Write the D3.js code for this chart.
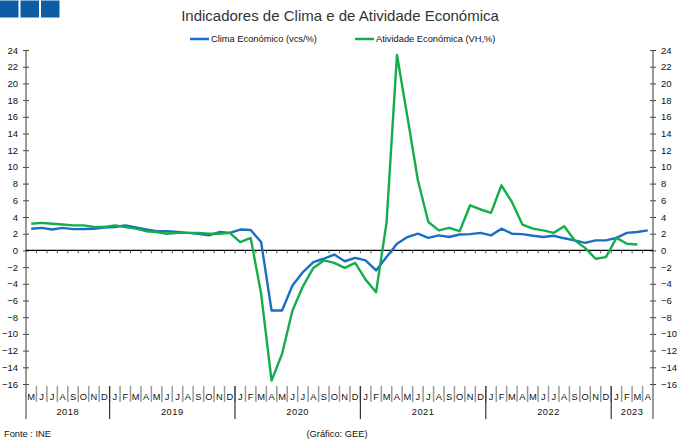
<!DOCTYPE html>
<html>
<head>
<meta charset="utf-8">
<script src="https://cdn.jsdelivr.net/npm/d3@7"></script>
<style>
  html, body { margin: 0; padding: 0; background: #fff; }
  svg { display: block; font-family: "Liberation Sans", Arial, sans-serif; }
</style>
</head>
<body>
<svg id="chart" width="681" height="443"></svg>
<script>
// ---- Data ----
const monthLetters = ["M","J","J","A","S","O","N","D",
  "J","F","M","A","M","J","J","A","S","O","N","D",
  "J","F","M","A","M","J","J","A","S","O","N","D",
  "J","F","M","A","M","J","J","A","S","O","N","D",
  "J","F","M","A","M","J","J","A","S","O","N","D",
  "J","F","M","A"];
const years = ["2018","2019","2020","2021","2022","2023"];
const monthsPerYear = [8, 12, 12, 12, 12, 4];
const clima = [2.6, 2.7, 2.5, 2.7, 2.55, 2.55, 2.6, 2.75, 2.8, 3.0, 2.75, 2.5, 2.3, 2.3, 2.2, 2.1, 2.0, 1.8, 2.2, 2.1, 2.5, 2.45,
  1.0, -7.2, -7.2, -4.2, -2.6, -1.4, -1.0, -0.5, -1.3, -0.9, -1.2, -2.4, -0.8,
  0.8, 1.6, 2.0, 1.5, 1.8, 1.6, 1.9, 1.95, 2.1, 1.8, 2.6, 2.0, 1.95, 1.75, 1.6, 1.75, 1.45, 1.2, 0.9, 1.2, 1.2, 1.5, 2.1, 2.2, 2.4];
const atividade = [3.2, 3.3, 3.2, 3.1, 3.0, 3.0, 2.8, 2.8, 3.0, 2.8, 2.6, 2.3, 2.2, 2.0, 2.1, 2.1, 2.1, 2.0, 2.0, 2.1, 1.0, 1.5,
  -5.2, -15.6, -12.4, -7.2, -4.3, -2.1, -1.2, -1.5, -2.1, -1.5, -3.5, -5.0, 3.3,
  23.4, 16.0, 8.4, 3.4, 2.4, 2.7, 2.3, 5.4, 4.9, 4.5, 7.8, 5.8, 3.1, 2.6, 2.4, 2.1, 2.9, 1.2, 0.3, -1.0, -0.8, 1.5, 0.8, 0.7];
const yTicks = d3.range(-16, 25, 2);
const seriesNames = ["Clima Económico (vcs/%)", "Atividade Económica (VH,%)"];
const colors = ["#1a6ec4", "#15ad4b"];

// ---- Layout ----
const svg = d3.select("#chart");
const L = 26, R = 653, T = 50, B = 384;
const idx = d3.range(monthLetters.length);
const x = d3.scaleBand().domain(idx).range([L, R]).paddingInner(0).paddingOuter(0);
const xc = i => x(i) + x.bandwidth() / 2;
const y = d3.scaleLinear().domain([-16, 24]).range([B, T]);

// header squares
[0, 1, 2].forEach(k => {
  svg.append("rect").attr("x", k * 20.5).attr("y", 0.5).attr("width", 18.5).attr("height", 17)
    .attr("fill", "#0e5ca5");
});

// title
svg.append("text").attr("x", 340).attr("y", 21).attr("text-anchor", "middle")
  .attr("font-size", 15).attr("fill", "#333").text("Indicadores de Clima e de Atividade Económica");

// legend
const legendX = [190, 355];
seriesNames.forEach((n, k) => {
  svg.append("line").attr("x1", legendX[k]).attr("x2", legendX[k] + 19)
    .attr("y1", 39).attr("y2", 39).attr("stroke", colors[k]).attr("stroke-width", 2.5);
  svg.append("text").attr("x", legendX[k] + 21).attr("y", 42).attr("font-size", 9.3)
    .attr("fill", "#111").text(n);
});

// y axes
const axisColor = "#444";
const leftAxis = d3.axisLeft(y).tickValues(yTicks).tickSize(3).tickSizeOuter(0).tickPadding(5).tickFormat(d3.format("d"));
const rightAxis = d3.axisRight(y).tickValues(yTicks).tickSize(3).tickSizeOuter(0).tickPadding(5).tickFormat(d3.format("d"));
function styleAxis(g, side) {
  g.select(".domain").remove();
  g.selectAll(".tick line").attr("stroke", axisColor).attr("x1", side * -3).attr("x2", side * 3);
  g.selectAll(".tick text").attr("font-size", 9.5).attr("fill", "#111").attr("font-family", "Liberation Sans, Arial, sans-serif");
}
const gl = svg.append("g").attr("transform", `translate(${L},0)`).call(leftAxis);
styleAxis(gl, 1);
gl.selectAll(".tick text").attr("x", -8);
const gr = svg.append("g").attr("transform", `translate(${R},0)`).call(rightAxis);
styleAxis(gr, -1);
gr.selectAll(".tick text").attr("x", 8);

// vertical axis lines (extend to bottom of year band)
[L, R].forEach(xx => {
  svg.append("line").attr("x1", xx).attr("x2", xx).attr("y1", T).attr("y2", 419)
    .attr("stroke", "#555").attr("stroke-width", 1.2);
});

// zero line with ticks
svg.append("line").attr("x1", L).attr("x2", R).attr("y1", y(0)).attr("y2", y(0))
  .attr("stroke", "#000").attr("stroke-width", 1.2);
idx.slice(1).forEach(i => {
  svg.append("line").attr("x1", x(i)).attr("x2", x(i)).attr("y1", y(0)).attr("y2", y(0) + 3)
    .attr("stroke", "#555").attr("stroke-width", 1);
});

// month separators & labels
idx.slice(1).forEach(i => {
  svg.append("line").attr("x1", x(i)).attr("x2", x(i)).attr("y1", B + 2).attr("y2", 402)
    .attr("stroke", "#999").attr("stroke-width", 1.5);
});
idx.forEach(i => {
  svg.append("text").attr("x", xc(i)).attr("y", 399.5).attr("text-anchor", "middle")
    .attr("font-size", 9.3).attr("fill", "#111").text(monthLetters[i]);
});

// year separators & labels
let start = 0;
years.forEach((yr, k) => {
  const s = start, e = start + monthsPerYear[k];
  const x0 = x(s), x1 = e < idx.length ? x(e) : R;
  if (k > 0) {
    svg.append("line").attr("x1", x0).attr("x2", x0).attr("y1", B + 2).attr("y2", 419)
      .attr("stroke", "#333").attr("stroke-width", 1.2);
  }
  svg.append("text").attr("x", (x0 + x1) / 2).attr("y", 415).attr("text-anchor", "middle")
    .attr("font-size", 9.3).attr("letter-spacing", 0.5).attr("fill", "#111").text(yr);
  start = e;
});

// series
const line = d3.line().x((d, i) => xc(i)).y(d => y(d));
[clima, atividade].forEach((arr, k) => {
  svg.append("path").datum(arr).attr("d", line).attr("fill", "none")
    .attr("stroke", colors[k]).attr("stroke-width", 2.4).attr("stroke-linejoin", "round");
});

// footer
svg.append("text").attr("x", 4).attr("y", 437).attr("font-size", 9.3).attr("fill", "#111").text("Fonte : INE");
svg.append("text").attr("x", 337).attr("y", 437).attr("text-anchor", "middle").attr("font-size", 9.3)
  .attr("fill", "#111").text("(Gráfico: GEE)");
</script>
</body>
</html>
